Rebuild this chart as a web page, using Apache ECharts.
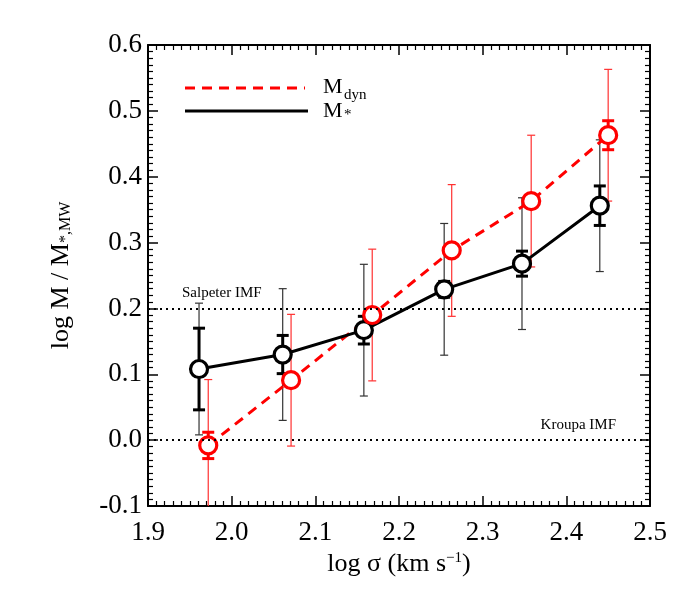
<!DOCTYPE html>
<html>
<head>
<meta charset="utf-8">
<script src="https://cdn.jsdelivr.net/npm/echarts@6/dist/echarts.min.js"></script>
<style>
  html, body { margin: 0; padding: 0; background: #fff; }
  #chart { width: 700px; height: 600px; }
</style>
</head>
<body>
<div id="chart"></div>
<script>
// log sigma of each velocity dispersion bin (the two sets are offset slightly)
const sigmaStar = [1.961, 2.061, 2.158, 2.254, 2.347, 2.440];
const sigmaDyn  = [1.972, 2.071, 2.168, 2.263, 2.358, 2.450];
// log M / M*,MW
const massStar = [0.108, 0.130, 0.167, 0.229, 0.268, 0.356];
const massDyn  = [-0.008, 0.091, 0.190, 0.288, 0.363, 0.463];
// statistical errors (thick bars) and systematic errors (thin bars)
const errStar = [0.062, 0.029, 0.021, 0.012, 0.019, 0.030];
const errDyn  = [0.020, 0.005, 0.005, 0.005, 0.005, 0.022];
const sysStar = [0.100, 0.100, 0.100, 0.100, 0.100, 0.100];
const sysDyn  = [0.100, 0.100, 0.100, 0.100, 0.100, 0.100];
// IMF reference levels
const salpeterLevel = 0.205;
const kroupaLevel = 0.0;

const xMin = 1.9, xMax = 2.5, yMin = -0.1, yMax = 0.6;
const FONT = 'Liberation Serif';

function errorBars(xs, ys, errs, color, width, cap, z) {
  return {
    type: 'custom',
    z: z,
    silent: true,
    data: xs.map((x, i) => [x, ys[i] - errs[i], ys[i] + errs[i]]),
    renderItem: function (params, api) {
      const x = api.value(0);
      const lo = api.value(1), hi = api.value(2);
      const p0 = api.coord([x, Math.max(lo, yMin)]);
      const p1 = api.coord([x, Math.min(hi, yMax)]);
      const st = { stroke: color, lineWidth: width };
      const kids = [{ type: 'line', shape: { x1: p0[0], y1: p0[1], x2: p1[0], y2: p1[1] }, style: st }];
      if (lo >= yMin) kids.push({ type: 'line', shape: { x1: p0[0] - cap, y1: p0[1], x2: p0[0] + cap, y2: p0[1] }, style: st });
      if (hi <= yMax) kids.push({ type: 'line', shape: { x1: p1[0] - cap, y1: p1[1], x2: p1[0] + cap, y2: p1[1] }, style: st });
      return { type: 'group', children: kids };
    }
  };
}

function xAx(pos, labels) {
  return {
    type: 'value', position: pos, min: xMin, max: xMax, interval: 0.1,
    axisLine: { show: true, onZero: false, lineStyle: { color: '#000', width: 2 } },
    axisTick: { show: true, inside: true, length: 10, lineStyle: { color: '#000', width: 1.5 } },
    minorTick: { show: true, splitNumber: 10, length: 5, lineStyle: { color: '#000', width: 1.2 } },
    splitLine: { show: false },
    axisLabel: {
      show: labels, margin: 13, color: '#000', fontFamily: FONT, fontSize: 27,
      formatter: v => v.toFixed(1)
    }
  };
}
function yAx(pos, labels) {
  return {
    type: 'value', position: pos, min: yMin, max: yMax, interval: 0.1,
    axisLine: { show: true, onZero: false, lineStyle: { color: '#000', width: 2 } },
    axisTick: { show: true, inside: true, length: 10, lineStyle: { color: '#000', width: 1.5 } },
    minorTick: { show: true, splitNumber: 10, length: 5, lineStyle: { color: '#000', width: 1.2 } },
    splitLine: { show: false },
    axisLabel: {
      show: labels, margin: 6, color: '#000', fontFamily: FONT, fontSize: 27,
      formatter: v => v.toFixed(1)
    }
  };
}

const xBottom = xAx('bottom', true);
xBottom.name = 'log σ (km s{sup|−1})';
xBottom.nameLocation = 'middle';
xBottom.nameGap = 44;
xBottom.nameTextStyle = {
  color: '#000', fontFamily: FONT, fontSize: 26,
  rich: { sup: { fontFamily: FONT, fontSize: 15, verticalAlign: 'top', padding: [0, 0, 12, 0] } }
};
const yLeft = yAx('left', true);
yLeft.name = 'log M / M{sub|*,MW}';
yLeft.nameLocation = 'middle';
yLeft.nameRotate = 90;
yLeft.nameGap = 74;
yLeft.nameTextStyle = {
  color: '#000', fontFamily: FONT, fontSize: 26,
  rich: { sub: { fontFamily: FONT, fontSize: 16, padding: [10, 0, 0, 0] } }
};

const chart = echarts.init(document.getElementById('chart'));
chart.setOption({
  animation: false,
  backgroundColor: '#fff',
  grid: { left: 148, right: 50, top: 45, bottom: 94 },
  xAxis: [xBottom, xAx('top', false)],
  yAxis: [yLeft, yAx('right', false)],
  graphic: [
    { type: 'line', shape: { x1: 185, y1: 88, x2: 305, y2: 88 }, style: { stroke: '#ff0000', lineWidth: 3, lineDash: [10, 7] } },
    { type: 'text', left: 323, top: 76, style: { text: 'M', font: '22px "Liberation Serif"', fill: '#000' } },
    { type: 'text', left: 344, top: 88, style: { text: 'dyn', font: '15px "Liberation Serif"', fill: '#000' } },
    { type: 'line', shape: { x1: 185, y1: 111, x2: 308, y2: 111 }, style: { stroke: '#000', lineWidth: 3 } },
    { type: 'text', left: 323, top: 100, style: { text: 'M', font: '22px "Liberation Serif"', fill: '#000' } },
    { type: 'text', left: 344, top: 108, style: { text: '*', font: '15px "Liberation Serif"', fill: '#000' } }
  ],
  series: [
    errorBars(sigmaStar, massStar, sysStar, '#333', 1.2, 4, 1),
    errorBars(sigmaDyn, massDyn, sysDyn, '#ff3030', 1.2, 4, 1),
    {
      type: 'line', z: 2, silent: true, symbol: 'none',
      data: sigmaDyn.map((x, i) => [x, massDyn[i]]),
      lineStyle: { color: '#ff0000', width: 3, type: [10, 7] }
    },
    {
      type: 'line', z: 2, silent: true, symbol: 'none',
      data: sigmaStar.map((x, i) => [x, massStar[i]]),
      lineStyle: { color: '#000', width: 3 },
      markLine: {
        silent: true, symbol: ['none', 'none'],
        lineStyle: { color: '#000', width: 2, type: [2, 4] },
        data: [
          { yAxis: salpeterLevel, label: { show: true, position: 'insideStartTop', formatter: 'Salpeter IMF', distance: [34, 8], color: '#000', fontFamily: FONT, fontSize: 15 } },
          { yAxis: kroupaLevel, label: { show: true, position: 'insideEndTop', formatter: 'Kroupa IMF', distance: [34, 8], color: '#000', fontFamily: FONT, fontSize: 15 } }
        ]
      }
    },
    errorBars(sigmaStar, massStar, errStar, '#000', 3, 6, 3),
    errorBars(sigmaDyn, massDyn, errDyn, '#ff0000', 3, 6, 3),
    {
      type: 'scatter', z: 4, silent: true, symbol: 'circle', symbolSize: 17,
      data: sigmaStar.map((x, i) => [x, massStar[i]]),
      itemStyle: { color: '#fff', borderColor: '#000', borderWidth: 3.2, opacity: 1 }
    },
    {
      type: 'scatter', z: 4, silent: true, symbol: 'circle', symbolSize: 17,
      data: sigmaDyn.map((x, i) => [x, massDyn[i]]),
      itemStyle: { color: '#fff', borderColor: '#ff0000', borderWidth: 3.2, opacity: 1 }
    }
  ]
});
</script>
</body>
</html>
